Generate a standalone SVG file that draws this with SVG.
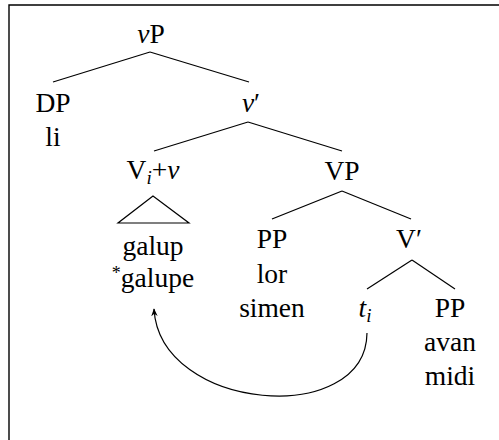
<svg xmlns="http://www.w3.org/2000/svg" width="499" height="440" viewBox="0 0 499 440">
  <defs>
    <style>
      .lbl text { font-size: 27.5px; fill: #000; text-anchor: middle; }
      .it { font-style: italic; }
      .sub { font-size: 19px; font-style: italic; }
      .edge { stroke: #000; stroke-width: 1.2; fill: none; }
      .frame { stroke: #000; stroke-width: 1.4; fill: none; }
    </style>
    <marker id="head" viewBox="0 0 10 10" refX="9" refY="5" markerWidth="8" markerHeight="8" orient="auto" markerUnits="userSpaceOnUse">
      <path d="M0,1 L10,5 L0,9 L3,5 Z" fill="#000"/>
    </marker>
  </defs>

  <rect width="499" height="440" fill="#fff"/>
  <path class="frame" d="M9,440 V5 H499"/>

  <!-- tree branches and movement arrow -->
  <g id="connectors">
    <path class="edge" d="M150,52 L53,82"/>
    <path class="edge" d="M150,52 L249,82"/>
    <path class="edge" d="M248,122 L154,151"/>
    <path class="edge" d="M248,122 L342,151"/>
    <path class="edge" d="M342,191 L272,219"/>
    <path class="edge" d="M342,191 L411,219"/>
    <path class="edge" d="M412,260 L367,289"/>
    <path class="edge" d="M412,260 L455,289"/>
    <path class="edge" d="M153,196 L118,223 L189,223 Z"/>
    <path class="edge" d="M367,333 C366,428 160,412 154,309" marker-end="url(#head)"/>
  </g>

  <g class="lbl" font-family="'Liberation Serif', 'DejaVu Serif', serif">
    <g id="vP"><text x="151" y="43"><tspan class="it">ν</tspan>P</text></g>
    <g id="DP"><text x="53" y="112">DP</text><text x="53" y="146">li</text></g>
    <g id="vbar"><text x="251" y="112"><tspan class="it">ν</tspan>′</text></g>
    <g id="Vv"><text x="153" y="179">V<tspan class="sub" dy="5">i</tspan><tspan dy="-5">+</tspan><tspan class="it">ν</tspan></text></g>
    <g id="galup"><text x="153" y="255">galup</text><text x="153" y="287"><tspan font-size="18" dy="-8">*</tspan><tspan dy="8">galupe</tspan></text></g>
    <g id="VP"><text x="342" y="180">VP</text></g>
    <g id="PP1"><text x="272" y="248">PP</text><text x="272" y="283">lor</text><text x="272" y="317">simen</text></g>
    <g id="Vbar"><text x="409" y="248">V′</text></g>
    <g id="trace"><text x="365" y="317"><tspan class="it">t</tspan><tspan class="sub" dy="5">i</tspan></text></g>
    <g id="PP2"><text x="450" y="317">PP</text><text x="450" y="351">avan</text><text x="450" y="385">midi</text></g>
  </g>
</svg>
